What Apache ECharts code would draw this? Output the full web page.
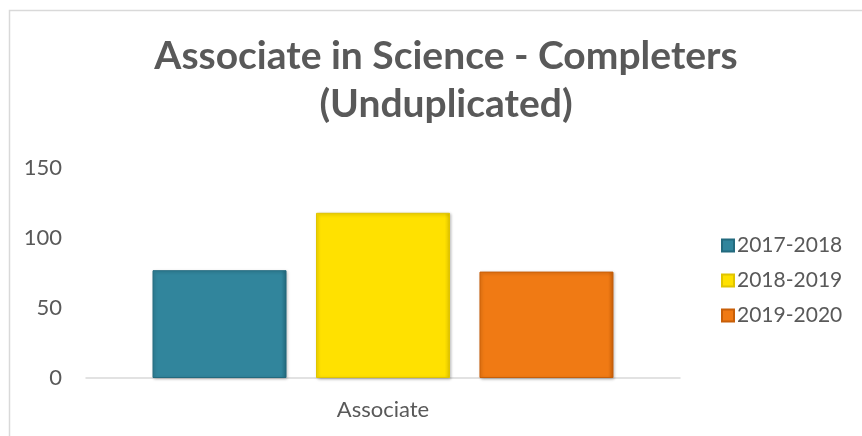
<!DOCTYPE html>
<html>
<head>
<meta charset="utf-8">
<script src="https://cdn.jsdelivr.net/npm/echarts@6/dist/echarts.min.js"></script>
<style>
  html, body { margin: 0; padding: 0; background: #fff; }
  #chart { width: 862px; height: 436px; }
</style>
</head>
<body>
<div id="chart"></div>
<script>
// data
const categories = ['Associate'];
const seriesNames = ['2017-2018', '2018-2019', '2019-2020'];
const seriesValues = [[77], [118], [76]];
const yTicks = [0, 50, 100, 150];

const colors = [
  ['#4aa3bb', '#31859c', '#236a7e'],
  ['#fff04a', '#ffe100', '#e0c400'],
  ['#f7953a', '#f07a14', '#c85f08']
];

function barColor(c) {
  return new echarts.graphic.LinearGradient(0, 0, 1, 0, [
    { offset: 0, color: c[1] },
    { offset: 0.96, color: c[1] },
    { offset: 1, color: c[2] }
  ]);
}

const font = 'Lato, "Open Sans", sans-serif';
let chart = echarts.init(document.getElementById('chart'));

chart.setOption({
  animation: false,
  textStyle: { fontFamily: font },
  graphic: [{
    type: 'rect',
    shape: { x: 9.5, y: 10.5, width: 900, height: 500 },
    style: { fill: 'none', stroke: '#d9d9d9', lineWidth: 1.5 }
  }],
  title: {
    text: 'Associate in Science - Completers\n(Unduplicated)',
    left: 441,
    textAlign: 'center',
    top: 27,
    textStyle: {
      fontFamily: font,
      fontSize: 39,
      fontWeight: 'bold',
      color: '#595959',
      lineHeight: 48
    }
  },
  legend: {
    orient: 'vertical',
    left: 716,
    top: 230,
    itemWidth: 12,
    itemHeight: 12,
    itemGap: 14,
    icon: 'rect',
    textStyle: { fontSize: 21, lineHeight: 21, color: '#595959', fontFamily: font, padding: [0, 0, 0, -2] },
    data: seriesNames
  },
  grid: { left: 86, right: 182, top: 168, bottom: 58 },
  xAxis: {
    type: 'category',
    data: categories,
    axisLine: { lineStyle: { color: '#d9d9d9', width: 1.5 } },
    axisTick: { show: false },
    axisLabel: { fontSize: 22, color: '#595959', margin: 21, fontFamily: font }
  },
  yAxis: {
    type: 'value',
    min: yTicks[0],
    max: yTicks[yTicks.length - 1],
    interval: 50,
    splitLine: { show: false },
    axisLine: { show: false },
    axisTick: { show: false },
    axisLabel: { fontSize: 22, color: '#595959', margin: 24, fontFamily: font }
  },
  series: seriesNames.map((name, i) => ({
    name: name,
    type: 'bar',
    data: seriesValues[i],
    barWidth: 134,
    barGap: '22%',
    itemStyle: {
      color: barColor(colors[i]),
      borderColor: colors[i][2],
      borderWidth: 1,
      shadowColor: 'rgba(0,0,0,0.25)',
      shadowBlur: 3,
      shadowOffsetX: 1,
      shadowOffsetY: 1
    }
  }))
});
</script>
</body>
</html>
